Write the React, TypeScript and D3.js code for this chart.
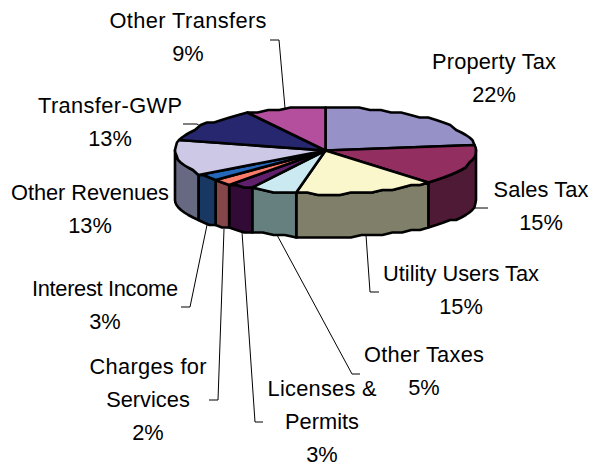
import React from "react";
import * as d3 from "d3";

const categories = ["Property Tax", "Sales Tax", "Utility Users Tax", "Other Taxes", "Licenses & Permits", "Charges for Services", "Interest Income", "Other Revenues", "Transfer-GWP", "Other Transfers"];
const values = [22, 15, 15, 5, 3, 2, 3, 13, 13, 9];
const topColors = ["#9691c7", "#922f60", "#fbf7cd", "#cbe9f0", "#5f1f6b", "#f97b69", "#2567bb", "#ccc8e6", "#27276f", "#b34f9c"];
const sideColors = ["#4b4863", "#4e1a35", "#80806a", "#65807f", "#310a36", "#85464a", "#183762", "#676882", "#12123a", "#5a284e"];

// label lines, anchor position and leader polyline for each slice
const labelLines = [["Property Tax", "22%"], ["Sales Tax", "15%"], ["Utility Users Tax", "15%"], ["Other Taxes", "5%"], ["Licenses &", "Permits", "3%"], ["Charges for", "Services", "2%"], ["Interest Income", "3%"], ["Other Revenues", "13%"], ["Transfer-GWP", "13%"], ["Other Transfers", "9%"]];
const labelX = [494, 541, 461, 424, 322, 148, 105, 90, 110, 188];
const labelY = [69, 197, 281, 362, 395.5, 374, 296, 200, 113, 28];
const firstLineWidth = [124, 95, 156, 120, 109, 117, 146, 158, 144, 157];
const leaders: [number, number][][] = [
  [],
  [[473, 208], [488, 208]],
  [[366, 235], [370, 292], [379, 292]],
  [[277, 235], [352, 374], [360, 374]],
  [[242, 232], [255, 422], [263, 422]],
  [[224, 229], [218, 400], [209, 400]],
  [[207, 225], [190, 307], [181, 307]],
  [],
  [[183, 124], [197, 124], [200, 126]],
  [[285, 108], [279, 40], [270, 40]],
];

const width = 589;
const height = 462;
const lineGap = 33;
const step = Math.PI / 40;
const yGrid = 2.5; // the edge of the source picture is stepped, not smooth

// unit circle to screen, one pair for the top face and one for the base
const xScale = d3.scaleLinear().domain([-1, 1]).range([175, 476]);
const yTop = d3.scaleLinear().domain([-1, 1]).range([107, 194]);
const yBase = d3.scaleLinear().domain([-1, 1]).range([165, 237]);

// the tilted view pushes the front of the pie round a little
const warp = (a: number) => a + 0.07 * Math.sin(a / 2);

const arcAngles = (a0: number, a1: number) => {
  const n = Math.max(1, Math.ceil((a1 - a0) / step));
  return d3.range(n + 1).map((i) => a0 + ((a1 - a0) * i) / n);
};
const onEllipse = (a: number, y: d3.ScaleLinear<number, number>): [number, number] => [
  xScale(Math.sin(a)),
  Math.round(y(-Math.cos(a)) / yGrid) * yGrid,
];
const path = d3.line();

export default function App() {
  const slices = d3.pie<number>().sort(null)(values).map((s) => ({
    ...s,
    startAngle: warp(s.startAngle),
    endAngle: warp(s.endAngle),
  }));

  return (
    <svg width={width} height={height} style={{ position: "absolute", left: 0, top: 0, background: "#fff" }}>
      {slices.map((s, i) => {
        const a0 = Math.max(s.startAngle, Math.PI / 2);
        const a1 = Math.min(s.endAngle, (3 * Math.PI) / 2);
        if (a1 <= a0) return null;
        const front = arcAngles(a0, a1);
        const pts = [
          ...front.map((a) => onEllipse(a, yTop)),
          ...front.slice().reverse().map((a) => onEllipse(a, yBase)),
        ];
        return <path key={categories[i]} d={path(pts) + "Z"} fill={sideColors[i]} stroke="#000" strokeWidth={2.6} strokeLinejoin="round" />;
      })}
      {slices.map((s, i) => {
        const center: [number, number] = [xScale(0), yTop(0)];
        const pts = [center, ...arcAngles(s.startAngle, s.endAngle).map((a) => onEllipse(a, yTop))];
        return <path key={categories[i]} d={path(pts) + "Z"} fill={topColors[i]} stroke="#000" strokeWidth={2.6} strokeLinejoin="round" />;
      })}
      {leaders.map((l, i) =>
        l.length ? <path key={categories[i]} d={path(l) ?? ""} fill="none" stroke="#000" strokeWidth={1} /> : null
      )}
      {labelLines.map((lines, i) => (
        <text key={categories[i]} x={labelX[i]} y={labelY[i]} textAnchor="middle" fontFamily="'Liberation Sans', Arial, sans-serif" fontSize={21.8} fill="#000">
          {lines.map((t, j) => (
            <tspan key={t} x={labelX[i]} dy={j === 0 ? 0 : lineGap} textLength={j === 0 ? firstLineWidth[i] : undefined}>{t}</tspan>
          ))}
        </text>
      ))}
    </svg>
  );
}
